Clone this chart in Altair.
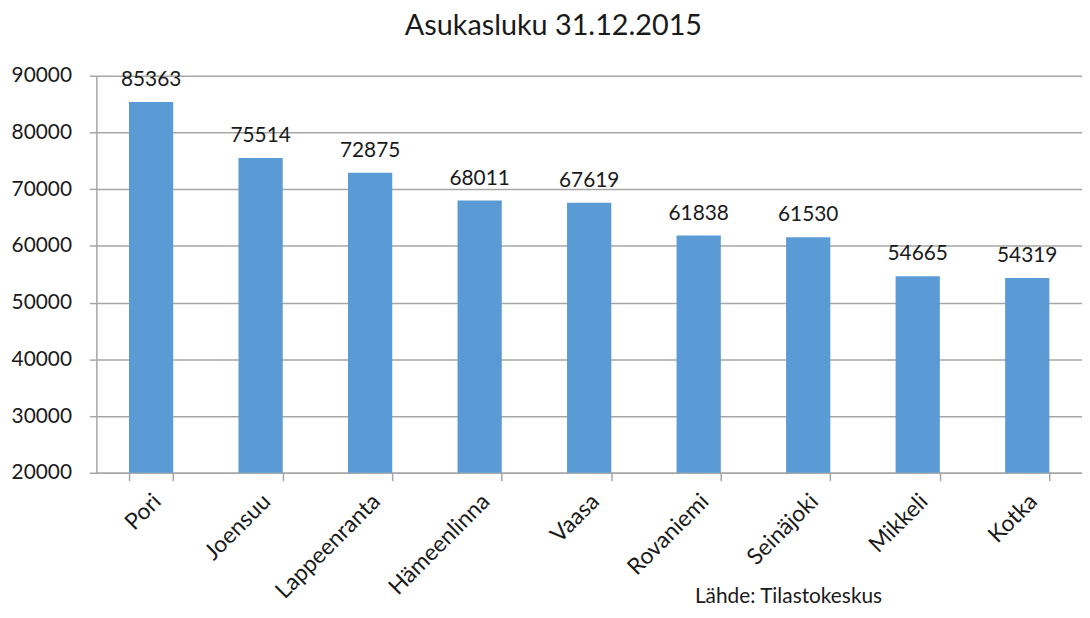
import altair as alt
import pandas as pd

cities = ["Pori", "Joensuu", "Lappeenranta", "Hämeenlinna", "Vaasa",
          "Rovaniemi", "Seinäjoki", "Mikkeli", "Kotka"]
population = [85363, 75514, 72875, 68011, 67619, 61838, 61530, 54665, 54319]
y_ticks = [20000, 30000, 40000, 50000, 60000, 70000, 80000, 90000]
title_text = "Asukasluku 31.12.2015"
source_text = ["Lähde: Tilastokeskus"]

df = pd.DataFrame({"city": cities, "pop": population})
src = pd.DataFrame({"t": source_text})

FONT = "Lato"
TXT = "#1a1a1a"
GRID = "#a6a6a6"

x_enc = alt.X(
    "city:N", sort=None, title=None,
    scale=alt.Scale(paddingInner=0.596, paddingOuter=0.298),
    axis=alt.Axis(
        labelAngle=-45, labelAlign="right", labelBaseline="middle",
        labelFont=FONT, labelFontSize=23, labelColor=TXT, labelPadding=17,
        labelOffset=6,
        tickBand="extent", tickSize=8, tickColor=GRID, tickWidth=1.5,
        domainColor=GRID, domainWidth=1.5, grid=False,
    ),
)
y_enc = alt.Y(
    "pop:Q", title=None,
    scale=alt.Scale(domain=[20000, 90000], zero=False, nice=False),
    axis=alt.Axis(
        values=y_ticks, format="d", labelFont=FONT, labelFontSize=21,
        labelColor=TXT, labelPadding=18, tickSize=7, tickColor=GRID,
        tickWidth=1.5, domainColor=GRID, domainWidth=1.5,
        grid=True, gridColor=GRID, gridWidth=1.5,
    ),
)

base = alt.Chart(df)
bars = base.mark_bar(color="#5B9BD5").encode(x=x_enc, y=y_enc, y2=alt.datum(20000))
labels = base.mark_text(
    dy=-16, baseline="alphabetic", font=FONT, fontSize=21, color=TXT
).encode(x=x_enc, y=y_enc, text=alt.Text("pop:Q", format="d"))
source = alt.Chart(src).mark_text(
    align="left", baseline="alphabetic", font=FONT, fontSize=21, color=TXT
).encode(x=alt.value(603), y=alt.value(531), text="t:N")

chart = alt.layer(bars, labels, source).properties(
    width=993, height=400,
    autosize=alt.AutoSizeParams(type="none"),
    padding={"left": 89, "top": 66, "right": 0, "bottom": 134},
    title=alt.Title(title_text, font=FONT, fontSize=29, fontWeight="normal",
                    color=TXT, anchor="middle", dx=-36, offset=24),
    background="white",
).configure_view(stroke=None)

chart.save("out.html", embed_options={"renderer": "svg", "actions": False})
